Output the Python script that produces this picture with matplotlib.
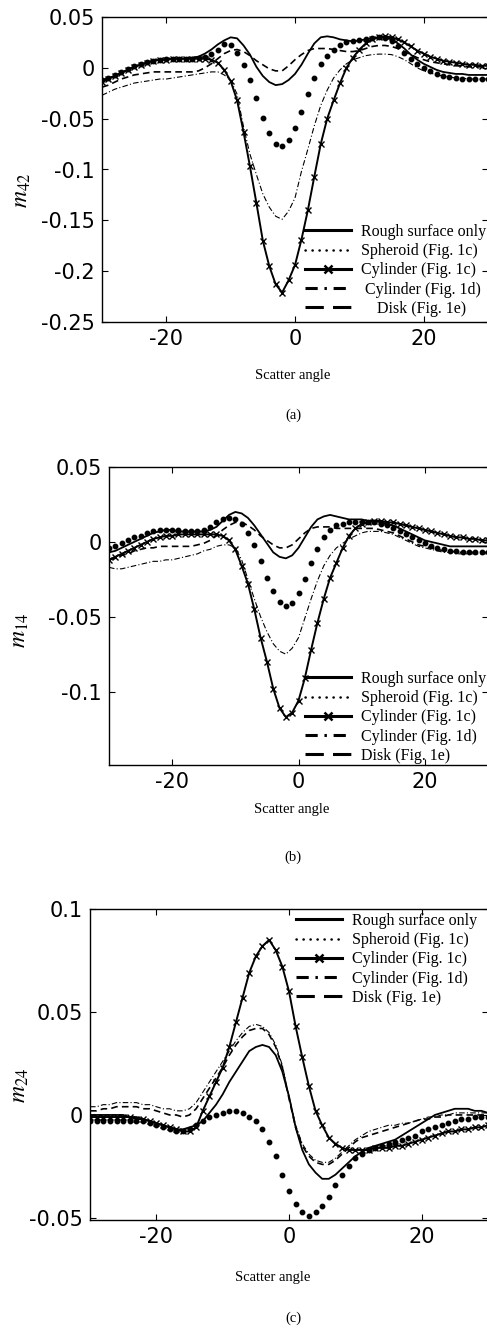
import numpy as np
import matplotlib
matplotlib.use('Agg')
import matplotlib.pyplot as plt
from matplotlib.lines import Line2D

plt.rcParams['axes.unicode_minus'] = False
plt.rcParams['mathtext.fontset'] = 'stix'

## scatter angle grid (deg)
angle = np.arange(-30, 31)

## panel (a): m42
m42_rough = [-0.012, -0.010, -0.008, -0.005, -0.002, 0.001, 0.003, 0.005, 0.007, 0.008,
             0.008, 0.009, 0.009, 0.009, 0.010, 0.011, 0.014, 0.018, 0.023, 0.027,
             0.030, 0.029, 0.022, 0.013, 0.001, -0.008, -0.014, -0.017, -0.016, -0.012,
             -0.006, 0.003, 0.014, 0.024, 0.030, 0.031, 0.030, 0.028, 0.027, 0.026,
             0.027, 0.028, 0.029, 0.030, 0.030, 0.028, 0.024, 0.019, 0.013, 0.008,
             0.004, 0.001, -0.002, -0.004, -0.005, -0.006, -0.006, -0.007, -0.007, -0.007, -0.007]
m42_spheroid = [-0.012, -0.010, -0.007, -0.004, -0.001, 0.002, 0.004, 0.006, 0.007, 0.008,
                0.009, 0.009, 0.009, 0.009, 0.009, 0.010, 0.011, 0.014, 0.018, 0.023,
                0.022, 0.015, 0.003, -0.012, -0.030, -0.049, -0.064, -0.075, -0.077, -0.071,
                -0.059, -0.043, -0.026, -0.010, 0.004, 0.012, 0.018, 0.022, 0.025, 0.026,
                0.027, 0.028, 0.029, 0.030, 0.029, 0.026, 0.021, 0.015, 0.009, 0.004,
                0.000, -0.003, -0.006, -0.008, -0.009, -0.010, -0.011, -0.011, -0.011, -0.011, -0.011]
m42_cyl1c = [-0.014, -0.011, -0.008, -0.005, -0.002, 0.001, 0.003, 0.005, 0.007, 0.008,
             0.008, 0.009, 0.009, 0.009, 0.009, 0.009, 0.009, 0.008, 0.005, -0.002,
             -0.013, -0.032, -0.063, -0.097, -0.133, -0.170, -0.195, -0.213, -0.221, -0.209,
             -0.194, -0.169, -0.140, -0.107, -0.075, -0.050, -0.032, -0.015, 0.000, 0.010,
             0.018, 0.024, 0.028, 0.030, 0.031, 0.030, 0.028, 0.025, 0.021, 0.017,
             0.014, 0.011, 0.009, 0.007, 0.006, 0.005, 0.004, 0.003, 0.003, 0.002, 0.002]
m42_cyl1d = [-0.027, -0.024, -0.021, -0.019, -0.017, -0.015, -0.014, -0.013, -0.012, -0.011,
             -0.011, -0.010, -0.009, -0.008, -0.007, -0.006, -0.005, -0.004, -0.004, -0.007,
             -0.012, -0.026, -0.058, -0.085, -0.105, -0.124, -0.137, -0.146, -0.149, -0.141,
             -0.128, -0.102, -0.080, -0.057, -0.037, -0.022, -0.010, -0.002, 0.004, 0.008,
             0.010, 0.012, 0.013, 0.0135, 0.0135, 0.013, 0.011, 0.008, 0.004, 0.000,
             -0.003, -0.005, -0.007, -0.008, -0.009, -0.010, -0.010, -0.011, -0.011, -0.011, -0.011]
m42_disk = [-0.019, -0.017, -0.014, -0.011, -0.009, -0.007, -0.006, -0.005, -0.004, -0.004,
            -0.004, -0.004, -0.004, -0.004, -0.004, -0.003, 0.000, 0.004, 0.009, 0.014,
            0.017, 0.018, 0.016, 0.012, 0.007, 0.003, -0.001, -0.003, -0.003, 0.002,
            0.008, 0.013, 0.017, 0.019, 0.019, 0.019, 0.018, 0.017, 0.016, 0.016,
            0.017, 0.019, 0.021, 0.022, 0.022, 0.021, 0.019, 0.016, 0.013, 0.010,
            0.008, 0.006, 0.005, 0.004, 0.003, 0.002, 0.002, 0.001, 0.001, 0.001, 0.001]

## panel (b): m14
m14_rough = [-0.007, -0.006, -0.004, -0.002, 0.000, 0.002, 0.004, 0.006, 0.007, 0.008,
             0.008, 0.007, 0.007, 0.007, 0.007, 0.007, 0.008, 0.010, 0.014, 0.018,
             0.020, 0.019, 0.016, 0.011, 0.005, -0.001, -0.007, -0.010, -0.011, -0.009,
             -0.004, 0.003, 0.010, 0.015, 0.017, 0.018, 0.017, 0.016, 0.015, 0.015,
             0.015, 0.014, 0.014, 0.013, 0.012, 0.011, 0.009, 0.007, 0.005, 0.003,
             0.001, 0.000, -0.001, -0.002, -0.003, -0.003, -0.003, -0.003, -0.003, -0.003, -0.003]
m14_spheroid = [-0.004, -0.003, -0.001, 0.001, 0.003, 0.004, 0.006, 0.007, 0.008, 0.008,
                0.008, 0.008, 0.007, 0.007, 0.007, 0.008, 0.010, 0.013, 0.015, 0.016,
                0.015, 0.012, 0.006, -0.002, -0.013, -0.024, -0.033, -0.040, -0.043, -0.041,
                -0.034, -0.025, -0.014, -0.005, 0.003, 0.008, 0.011, 0.012, 0.013, 0.013,
                0.013, 0.013, 0.013, 0.012, 0.011, 0.009, 0.007, 0.005, 0.003, 0.001,
                -0.001, -0.003, -0.004, -0.005, -0.006, -0.006, -0.007, -0.007, -0.007, -0.007, -0.007]
m14_cyl1c = [-0.012, -0.010, -0.008, -0.006, -0.004, -0.002, 0.000, 0.002, 0.003, 0.004,
             0.004, 0.005, 0.005, 0.005, 0.005, 0.005, 0.005, 0.005, 0.004, 0.001,
             -0.005, -0.016, -0.028, -0.045, -0.064, -0.080, -0.098, -0.111, -0.117, -0.114,
             -0.106, -0.091, -0.072, -0.054, -0.038, -0.024, -0.014, -0.004, 0.004, 0.009,
             0.012, 0.013, 0.014, 0.014, 0.013, 0.013, 0.012, 0.011, 0.010, 0.009,
             0.008, 0.007, 0.006, 0.005, 0.004, 0.003, 0.003, 0.002, 0.002, 0.001, 0.001]
m14_cyl1d = [-0.017, -0.018, -0.018, -0.017, -0.016, -0.015, -0.014, -0.013, -0.013, -0.012,
             -0.012, -0.011, -0.010, -0.009, -0.008, -0.006, -0.005, -0.003, -0.002, -0.002,
             -0.004, -0.012, -0.025, -0.038, -0.050, -0.060, -0.068, -0.073, -0.075, -0.071,
             -0.064, -0.051, -0.038, -0.026, -0.016, -0.009, -0.004, -0.001, 0.002, 0.004,
             0.006, 0.007, 0.007, 0.007, 0.006, 0.005, 0.003, 0.001, -0.001, -0.003,
             -0.004, -0.005, -0.006, -0.007, -0.007, -0.008, -0.008, -0.008, -0.008, -0.008, -0.008]
m14_disk = [-0.012, -0.011, -0.009, -0.008, -0.006, -0.005, -0.004, -0.004, -0.003, -0.003,
            -0.003, -0.003, -0.003, -0.003, -0.002, -0.001, 0.001, 0.004, 0.008, 0.011,
            0.013, 0.013, 0.011, 0.008, 0.004, 0.001, -0.002, -0.004, -0.004, -0.002,
            0.002, 0.006, 0.009, 0.010, 0.010, 0.010, 0.009, 0.009, 0.009, 0.009,
            0.009, 0.009, 0.009, 0.008, 0.007, 0.006, 0.004, 0.002, 0.000, -0.002,
            -0.003, -0.004, -0.005, -0.006, -0.006, -0.007, -0.007, -0.007, -0.007, -0.007, -0.007]

## panel (c): m24
m24_rough = [0.000, 0.000, 0.000, 0.000, 0.000, 0.000, -0.001, -0.001, -0.002, -0.003,
             -0.004, -0.005, -0.006, -0.007, -0.007, -0.006, -0.005, -0.003, 0.001, 0.005,
             0.010, 0.016, 0.021, 0.026, 0.031, 0.033, 0.034, 0.033, 0.029, 0.021,
             0.009, -0.006, -0.017, -0.024, -0.028, -0.031, -0.031, -0.029, -0.026, -0.023,
             -0.020, -0.018, -0.016, -0.015, -0.014, -0.013, -0.012, -0.010, -0.008, -0.006,
             -0.004, -0.002, 0.000, 0.001, 0.002, 0.003, 0.003, 0.003, 0.002, 0.002, 0.001]
m24_spheroid = [-0.003, -0.003, -0.003, -0.003, -0.003, -0.003, -0.003, -0.003, -0.003, -0.004,
                -0.005, -0.006, -0.007, -0.008, -0.008, -0.007, -0.005, -0.003, -0.001, 0.000,
                0.001, 0.002, 0.002, 0.001, -0.001, -0.003, -0.007, -0.013, -0.020, -0.029,
                -0.037, -0.043, -0.047, -0.049, -0.047, -0.044, -0.040, -0.034, -0.029, -0.025,
                -0.021, -0.019, -0.017, -0.016, -0.015, -0.014, -0.013, -0.012, -0.011, -0.010,
                -0.008, -0.007, -0.006, -0.005, -0.004, -0.003, -0.002, -0.002, -0.001, -0.001, -0.001]
m24_cyl1c = [-0.001, -0.001, -0.001, -0.001, -0.001, -0.001, -0.001, -0.002, -0.002, -0.003,
             -0.004, -0.005, -0.006, -0.007, -0.008, -0.008, -0.006, 0.002, 0.009, 0.016,
             0.023, 0.033, 0.045, 0.057, 0.069, 0.077, 0.082, 0.085, 0.080, 0.072,
             0.060, 0.043, 0.028, 0.014, 0.002, -0.005, -0.011, -0.014, -0.016, -0.017,
             -0.017, -0.017, -0.017, -0.016, -0.016, -0.016, -0.015, -0.015, -0.014, -0.013,
             -0.012, -0.011, -0.010, -0.009, -0.008, -0.008, -0.007, -0.007, -0.006, -0.006, -0.005]
m24_cyl1d = [0.004, 0.004, 0.005, 0.005, 0.006, 0.006, 0.006, 0.006, 0.005, 0.005,
             0.004, 0.003, 0.003, 0.002, 0.002, 0.003, 0.006, 0.011, 0.016, 0.021,
             0.026, 0.031, 0.036, 0.040, 0.043, 0.044, 0.043, 0.040, 0.034, 0.024,
             0.009, -0.005, -0.014, -0.019, -0.022, -0.023, -0.023, -0.021, -0.018, -0.015,
             -0.012, -0.010, -0.008, -0.007, -0.006, -0.005, -0.005, -0.004, -0.004, -0.003,
             -0.002, -0.001, -0.001, 0.000, 0.000, 0.001, 0.001, 0.001, 0.001, 0.001, 0.001]
m24_disk = [0.002, 0.002, 0.003, 0.003, 0.004, 0.004, 0.004, 0.004, 0.003, 0.003,
            0.002, 0.001, 0.000, 0.000, -0.001, 0.000, 0.003, 0.008, 0.013, 0.018,
            0.023, 0.029, 0.034, 0.038, 0.041, 0.042, 0.042, 0.039, 0.033, 0.023,
            0.008, -0.006, -0.015, -0.020, -0.023, -0.024, -0.024, -0.022, -0.019, -0.016,
            -0.013, -0.011, -0.010, -0.009, -0.008, -0.007, -0.006, -0.005, -0.004, -0.003,
            -0.002, -0.002, -0.001, -0.001, 0.000, 0.000, 0.000, 0.000, 0.000, 0.000, 0.000]

legend_labels_a = ['Rough surface only', 'Spheroid (Fig. 1c)', 'Cylinder (Fig. 1c)',
                   ' Cylinder (Fig. 1d)', '    Disk (Fig. 1e)']
legend_labels = ['Rough surface only', 'Spheroid (Fig. 1c)', 'Cylinder (Fig. 1c)',
                 'Cylinder (Fig. 1d)', 'Disk (Fig. 1e)']

W, H = 487, 1328
fig = plt.figure(figsize=(W/100, H/100), dpi=100)

def fx(px):
    return px / W

def fy(py):
    return 1 - py / H

serif = 'Liberation Serif'

## panels: pixel box (left, top, right, bottom), limits, ticks, labels, data, text positions
panels = [
    dict(box=(102, 17, 488, 322), ylim=(-0.25, 0.05), yticks=[-0.25, -0.2, -0.15, -0.1, -0.05, 0, 0.05],
         ylab=r'$m_{42}$', ylab_pos=(21, 190), data=(m42_rough, m42_spheroid, m42_cyl1c, m42_cyl1d, m42_disk),
         xlab_pos=(293, 375), leg=(305, 224), labels=legend_labels_a, cap='(a)', cap_y=415),
    dict(box=(109, 467, 488, 765), ylim=(-0.149, 0.05), yticks=[-0.1, -0.05, 0, 0.05],
         ylab=r'$m_{14}$', ylab_pos=(19, 630), data=(m14_rough, m14_spheroid, m14_cyl1c, m14_cyl1d, m14_disk),
         xlab_pos=(292, 810), leg=(305, 671), labels=legend_labels, cap='(b)', cap_y=857),
    dict(box=(90, 909, 488, 1220), ylim=(-0.051, 0.1), yticks=[-0.05, 0, 0.05, 0.1],
         ylab=r'$m_{24}$', ylab_pos=(19, 1085), data=(m24_rough, m24_spheroid, m24_cyl1c, m24_cyl1d, m24_disk),
         xlab_pos=(273, 1278), leg=(296, 913), labels=legend_labels, cap='(c)', cap_y=1318),
]

for p in panels:
    l, t, r, b = p['box']
    ax = fig.add_axes([fx(l), fy(b), (r - l) / W, (b - t) / H])
    rough, sph, cyl1c, cyl1d, disk = p['data']

    ax.plot(angle, rough, color='k', lw=1.3, ls='-')
    ax.plot(angle, sph, color='k', ls='none', marker='o', ms=3.2)
    ax.plot(angle, cyl1c, color='k', lw=1.4, ls='-', marker='x', ms=4, mew=1.0)
    ax.plot(angle, cyl1d, color='k', lw=0.8, ls=(0, (5, 2, 1, 2)))
    ax.plot(angle, disk, color='k', lw=1.2, ls=(0, (4, 2.5)))

    ax.set_xlim(-30, 30)
    ax.set_ylim(*p['ylim'])
    ax.set_xticks([-20, 0, 20])
    ax.set_yticks(p['yticks'])
    ax.set_yticklabels(['%g' % v for v in p['yticks']])
    ax.tick_params(direction='in', length=4, width=0.8, top=True, right=True,
                   labelsize=15, pad=5)
    for s in ax.spines.values():
        s.set_linewidth(1.0)

    # proxies for legend
    handles = [
        Line2D([], [], color='k', lw=2.2, ls='-'),
        Line2D([], [], color='k', lw=1.8, ls=(0, (0.1, 2.7)), dash_capstyle='round'),
        Line2D([], [], color='k', lw=2.2, ls='-', marker='x', ms=6, mew=1.8),
        Line2D([], [], color='k', lw=2.2, ls=(0, (4, 2.2, 0.8, 2.2))),
        Line2D([], [], color='k', lw=2.2, ls=(0, (6, 3))),
    ]
    lx, ly = p['leg']
    ax.legend(handles, p['labels'], loc='upper left', bbox_to_anchor=(fx(lx), fy(ly)),
              bbox_transform=fig.transFigure, frameon=False, borderpad=0, borderaxespad=0,
              handlelength=2.9, handletextpad=0.6, labelspacing=0.2,
              prop={'family': serif, 'size': 11.5})

    xl, yl = p['ylab_pos']
    fig.text(fx(xl), fy(yl), p['ylab'], rotation=90, ha='center', va='center', fontsize=17)
    xx, xy = p['xlab_pos']
    fig.text(fx(xx), fy(xy), 'Scatter angle', ha='center', va='center', family=serif, fontsize=10.5)
    fig.text(fx(293), fy(p['cap_y']), p['cap'], ha='center', va='center', family=serif, fontsize=10.5)

plt.savefig('out.png', dpi=100)
